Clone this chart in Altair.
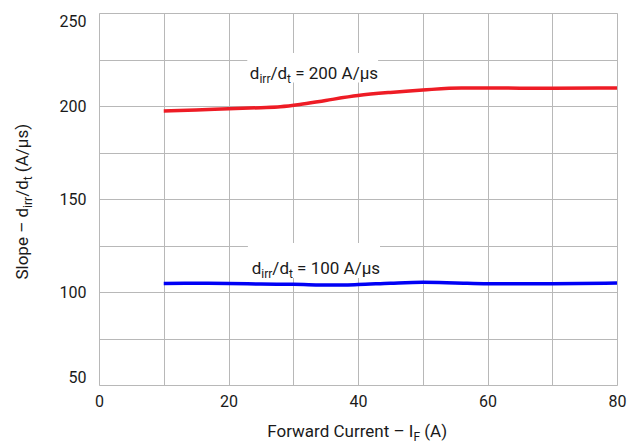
import altair as alt
import pandas as pd

# ---------------- data ----------------
red_x = [10, 15, 20, 25, 28, 31, 35, 40, 45, 50, 56, 60, 70, 80]
red_y = [197.3, 197.8, 198.5, 199.1, 199.6, 200.8, 203.0, 205.6, 207.3, 208.6, 209.7, 209.7, 209.5, 209.7]

blue_x = [10, 15, 20, 25, 30, 36, 40, 45, 50, 55, 60, 70, 80]
blue_y = [104.6, 104.7, 104.6, 104.3, 104.1, 103.7, 104.0, 104.7, 105.2, 104.9, 104.5, 104.5, 104.8]

x_ticks = [0, 10, 20, 30, 40, 50, 60, 70, 80]
y_ticks = [50, 75, 100, 125, 150, 175, 200, 225, 250]

label_rates = ["200", "100"]
label_x = [23.3, 23.6]
label_y = [214.6, 109.7]
box_x0 = [22.9, 23.0]
box_x1 = [43.1, 43.4]
box_y0 = [212.6, 107.5]
box_y1 = [228.5, 126.3]

FONT = "Roboto"
TXT = "#1a1a1a"
RED = "#ee1c25"
BLUE = "#0000f5"
GRID = "#b8b8b8"

W_PLOT, H_PLOT = 518, 372

# approximate Roboto advance widths (em)
CW = {' ': 0.248, '(': 0.342, ')': 0.348, '/': 0.412, '=': 0.549, '–': 0.55, 'A': 0.652,
      'C': 0.653, 'F': 0.545, 'I': 0.272, 'S': 0.608, 'a': 0.544, 'd': 0.563, 'e': 0.53,
      'i': 0.243, 'l': 0.243, 'n': 0.552, 'o': 0.57, 'p': 0.56, 'r': 0.338, 's': 0.515,
      't': 0.327, 'u': 0.551, 'w': 0.751, 'μ': 0.56}


def tw(s, size):
    return sum(CW.get(c, 0.562) for c in s) * size


BASE = 17
SUB = 12
SUB_DY = 4


def rich(segments, split, make_chart, enc, angle=0, center=False):
    """Compose text of normal and subscript pieces. Pieces before `split` are
    right-aligned leftwards from an anchor, the others left-aligned rightwards."""
    sizes = [SUB if s else BASE for _, s in segments]
    widths = [tw(t, z) for (t, _), z in zip(segments, sizes)]
    total = sum(widths)
    anchor = (-total / 2 if center else 0.0) + sum(widths[:split])
    layers = []

    def add(core, align, dx, sub, size):
        props = dict(text=core, align=align, baseline='alphabetic', dx=dx,
                     dy=(SUB_DY if sub else 0), fontSize=size, font=FONT, color=TXT)
        if angle:
            props['angle'] = angle
        layers.append(make_chart().mark_text(**props).encode(**enc))

    off = anchor
    for i in range(split - 1, -1, -1):
        t, s = segments[i]
        trail = len(t) - len(t.rstrip(' '))
        add(t.strip(' '), 'right', off - tw(' ' * trail, sizes[i]), s, sizes[i])
        off -= widths[i]
    off = anchor
    for i in range(split, len(segments)):
        t, s = segments[i]
        lead = len(t) - len(t.lstrip(' '))
        add(t.strip(' '), 'left', off + tw(' ' * lead, sizes[i]), s, sizes[i])
        off += widths[i]
    return layers


lines_df = pd.concat([
    pd.DataFrame({'x': red_x, 'y': red_y, 's': 'red'}),
    pd.DataFrame({'x': blue_x, 'y': blue_y, 's': 'blue'}),
])

xscale = alt.Scale(domain=[0, 80], nice=False, zero=False)
yscale = alt.Scale(domain=[50, 250], nice=False, zero=False)

xaxis = alt.Axis(values=x_ticks, labelExpr="datum.value % 20 === 0 ? datum.label : ''",
                 title=None, ticks=False, domain=False, grid=True, gridColor=GRID,
                 gridWidth=1, labelFontSize=16, labelFont=FONT, labelColor=TXT,
                 labelPadding=8, labelFlush=False, labelOverlap=False)
yaxis = alt.Axis(values=y_ticks, labelExpr="datum.value % 50 === 0 ? datum.label : ''",
                 title=None, ticks=False, domain=False, grid=True, gridColor=GRID,
                 gridWidth=1, labelFontSize=16, labelFont=FONT, labelColor=TXT,
                 labelPadding=13, labelOverlap=False, labelFlush=True)

base_lines = alt.Chart(lines_df).encode(
    x=alt.X('x:Q', scale=xscale, axis=xaxis),
    y=alt.Y('y:Q', scale=yscale, axis=yaxis),
)
red_line = base_lines.transform_filter(alt.datum.s == 'red').mark_line(
    color=RED, strokeWidth=3.5, interpolate='monotone')
blue_line = base_lines.transform_filter(alt.datum.s == 'blue').mark_line(
    color=BLUE, strokeWidth=3.5, interpolate='monotone')

box_df = pd.DataFrame({'x0': box_x0, 'x1': box_x1, 'y0': box_y0, 'y1': box_y1})
boxes = alt.Chart(box_df).mark_rect(fill='white').encode(
    x=alt.X('x0:Q', scale=xscale), x2='x1:Q',
    y=alt.Y('y0:Q', scale=yscale), y2='y1:Q')

layers = [red_line, blue_line, boxes]

# in-plot labels
for i, rate in enumerate(label_rates):
    df = pd.DataFrame({'x': [label_x[i]], 'y': [label_y[i]]})
    segs = [("d", False), ("irr", True), ("/d", False), ("t", True), (" = " + rate + " A/μs", False)]
    layers += rich(segs, 4, lambda df=df: alt.Chart(df),
                   dict(x=alt.X('x:Q', scale=xscale), y=alt.Y('y:Q', scale=yscale)))

one = pd.DataFrame({'k': [0]})

# x-axis title
layers += rich([("Forward Current – I", False), ("F", True), (" (A)", False)], 1,
               lambda: alt.Chart(one),
               dict(x=alt.value(259), y=alt.value(424)), center=True)

# y-axis title (rotated)
layers += rich([("Slope – d", False), ("irr", True), ("/d", False), ("t", True), (" (A/μs)", False)], 1,
               lambda: alt.Chart(one),
               dict(x=alt.value(-71), y=alt.value(188)), angle=270, center=True)

chart = alt.layer(*layers).properties(
    width=W_PLOT, height=H_PLOT,
    autosize=alt.AutoSizeParams(type='none'),
    padding={'left': 91, 'top': 5, 'right': 15, 'bottom': 58},
).configure_view(stroke='black', strokeWidth=1.5).configure(background='white')

chart.save("out.html", embed_options={"renderer": "svg", "actions": False})
